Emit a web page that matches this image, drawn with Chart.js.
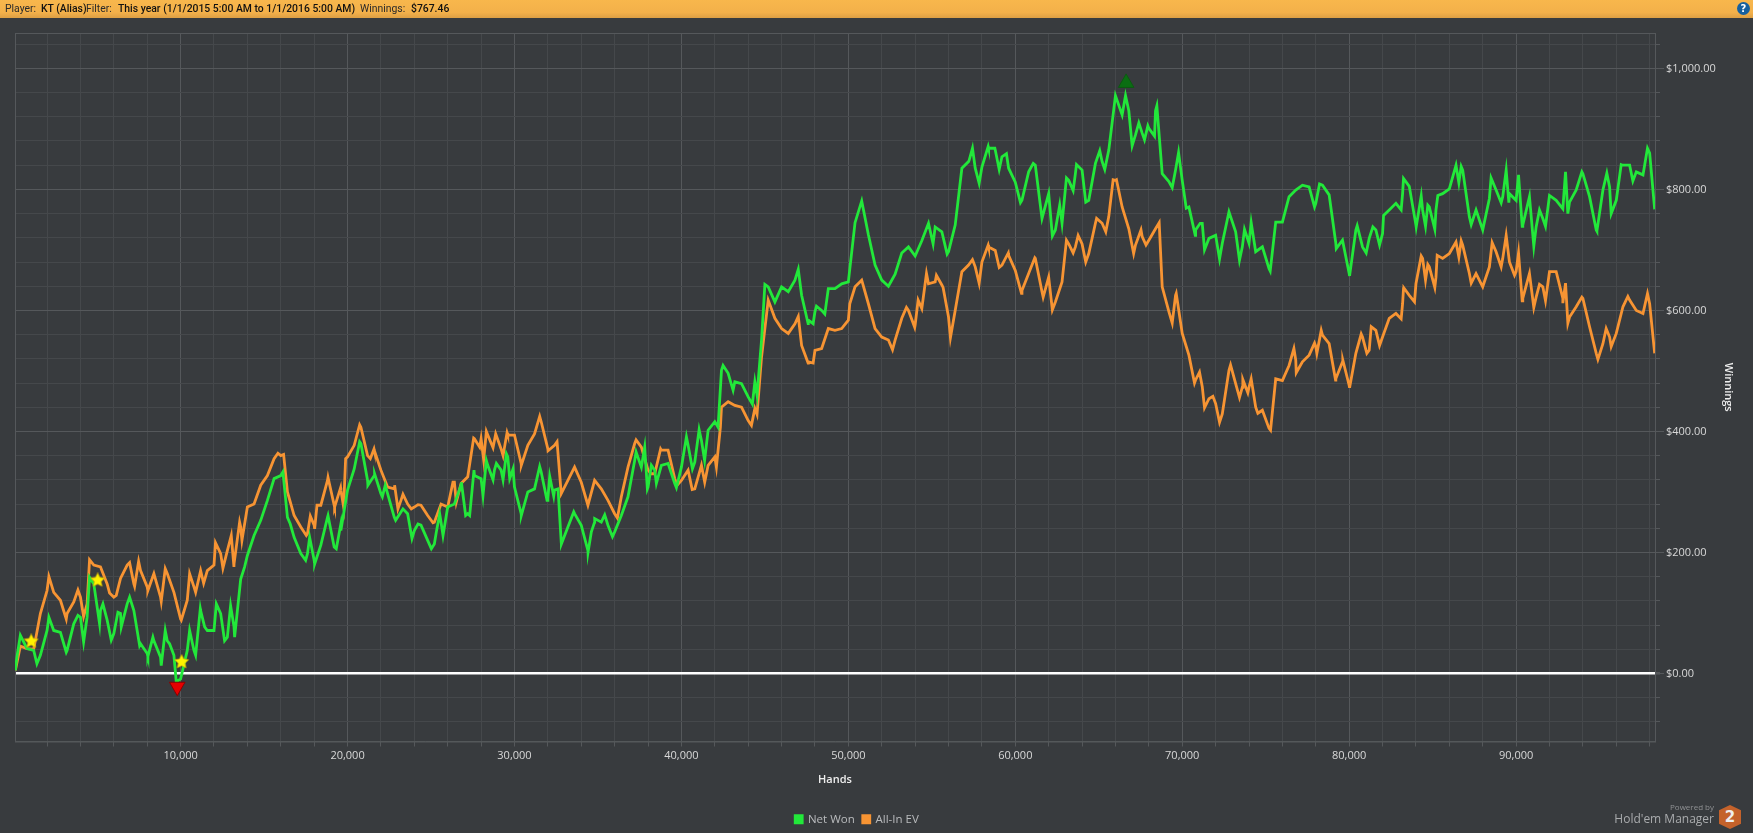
<!DOCTYPE html>
<html>
<head>
<meta charset="utf-8">
<title>Winnings graph</title>
<script src="https://cdn.jsdelivr.net/npm/chart.js@4/dist/chart.umd.min.js"></script>
<style>
    html, body { margin: 0; padding: 0; background: #383b3e; overflow: hidden; }
    #wrap { position: relative; width: 1753px; height: 833px; }
    #chart { position: absolute; left: 0; top: 0; }
    .topbar {
        position: absolute; left: 0; top: 0; width: 1753px; height: 18px;
        background: linear-gradient(#f8b74c, #f3b04a 70%, #dd9f44);
        font: 10.4px Roboto, sans-serif; color: #2a2a2a; line-height: 18px; white-space: pre;
    }
    .topbar span { position: absolute; top: 0; }
    .topbar b { font-weight: 500; color: #111; }
    .help {
        position: absolute; left: 1737px; top: 2px; width: 13px; height: 13px; border-radius: 50%;
        background: #16609f; color: #fff; font: bold 10px/13px "DejaVu Sans", sans-serif; text-align: center;
    }
    .powered { position: absolute; right: 39px; top: 802px; text-align: right; color: #a9abad; font-family: "Open Sans", sans-serif; }
    .powered small { display: block; font-size: 8px; line-height: 9px; color: #8f9193; }
    .powered div { font-size: 12px; line-height: 16px; }
    .badge {
        position: absolute; left: 1719px; top: 805px; width: 22px; height: 24px; background: #c4622b; color: #eee;
        clip-path: polygon(50% 0, 100% 22%, 100% 78%, 50% 100%, 0 78%, 0 22%);
        font: bold 15px/24px "DejaVu Sans", sans-serif; text-align: center;
    }
</style>
</head>
<body>
<div id="wrap">
    <canvas id="chart" width="1753" height="833"></canvas>
    <div class="topbar">
        <span style="left:5px">Player:</span><span style="left:41px"><b>KT (Alias)</b></span>
        <span style="left:86px">Filter:</span><span style="left:118px"><b>This year (1/1/2015 5:00 AM to 1/1/2016 5:00 AM)</b></span>
        <span style="left:360px">Winnings:</span><span style="left:411px"><b>$767.46</b></span>
    </div>
    <div class="help">?</div>
    <div class="powered"><small>Powered by</small><div>Hold'em Manager</div></div>
    <div class="badge">2</div>
</div>

<script>
// Du lieu doc tu anh, moi dong 10 diem
const hands = [
    100, 400, 800, 1200, 1600, 2000, 2400, 2800, 3200, 3600,
    4000, 4400, 4800, 5200, 5600, 6000, 6400, 6800, 7200, 7600,
    8000, 8400, 8800, 9200, 9600, 10000, 10400, 10800, 11200, 11600,
    12000, 12400, 12800, 13200, 13600, 14000, 14400, 14800, 15200, 15600,
    16000, 16400, 16800, 17200, 17600, 18000, 18400, 18800, 19200, 19600,
    20000, 20400, 20800, 21200, 21600, 22000, 22400, 22800, 23200, 23600,
    24000, 24400, 24800, 25200, 25600, 26000, 26400, 26800, 27200, 27600,
    28000, 28400, 28800, 29200, 29600, 30000, 30400, 30800, 31200, 31600,
    32000, 32400, 32800, 33200, 33600, 34000, 34400, 34800, 35200, 35600,
    36000, 36400, 36800, 37200, 37600, 38000, 38400, 38800, 39200, 39600,
    40000, 40400, 40800, 41200, 41600, 42000, 42400, 42800, 43200, 43600,
    44000, 44400, 44800, 45200, 45600, 46000, 46400, 46800, 47200, 47600,
    48000, 48400, 48800, 49200, 49600, 50000, 50400, 50800, 51200, 51600,
    52000, 52400, 52800, 53200, 53600, 54000, 54400, 54800, 55200, 55600,
    56000, 56400, 56800, 57200, 57600, 58000, 58400, 58800, 59200, 59600,
    60000, 60400, 60800, 61200, 61600, 62000, 62400, 62800, 63200, 63600,
    64000, 64400, 64800, 65200, 65600, 66000, 66400, 66800, 67200, 67600,
    68000, 68400, 68800, 69200, 69600, 70000, 70400, 70800, 71200, 71600,
    72000, 72400, 72800, 73200, 73600, 74000, 74400, 74800, 75200, 75600,
    76000, 76400, 76800, 77200, 77600, 78000, 78400, 78800, 79200, 79600,
    80000, 80400, 80800, 81200, 81600, 82000, 82400, 82800, 83200, 83600,
    84000, 84400, 84800, 85200, 85600, 86000, 86400, 86800, 87200, 87600,
    88000, 88400, 88800, 89200, 89600, 90000, 90400, 90800, 91200, 91600,
    92000, 92400, 92800, 93200, 93600, 94000, 94400, 94800, 95200, 95600,
    96000, 96400, 96800, 97200, 97600, 98000, 98300
];

const netWon = [
    5, 63, 41, 38, 30, 71, 71, 68, 38, 82,
    93, 93, 148, 104, 88, 66, 99, 115, 104, 49,
    33, 54, 27, 54, 30, -9, 38, 38, 104, 71,
    71, 99, 60, 77, 156, 195, 228, 253, 286, 322,
    327, 258, 225, 198, 198, 187, 212, 258, 209, 236,
    303, 338, 380, 319, 327, 297, 297, 258, 267, 264,
    236, 245, 220, 214, 250, 275, 280, 311, 264, 327,
    322, 344, 336, 336, 358, 308, 264, 300, 305, 333,
    289, 303, 217, 242, 264, 245, 203, 250, 250, 245,
    234, 261, 292, 352, 341, 308, 336, 344, 347, 314,
    341, 377, 349, 385, 402, 416, 501, 496, 482, 479,
    457, 482, 551, 639, 614, 639, 631, 650, 625, 584,
    598, 600, 636, 636, 644, 647, 745, 781, 725, 675,
    650, 640, 660, 695, 705, 690, 715, 744, 738, 730,
    697, 741, 835, 846, 835, 837, 868, 865, 854, 835,
    812, 782, 829, 840, 752, 793, 733, 744, 815, 826,
    832, 782, 843, 846, 865, 955, 923, 930, 890, 893,
    901, 930, 826, 813, 832, 815, 771, 733, 744, 719,
    724, 711, 763, 730, 705, 711, 697, 705, 669, 746,
    746, 788, 799, 807, 804, 777, 807, 791, 711, 716,
    661, 733, 705, 719, 733, 727, 766, 777, 793, 805,
    741, 766, 771, 766, 793, 801, 840, 832, 755, 766,
    733, 785, 799, 788, 793, 782, 741, 788, 738, 752,
    790, 782, 768, 779, 799, 826, 788, 733, 799, 804,
    782, 840, 840, 829, 824, 860, 767
];

const allInEV = [
    5, 45, 41, 40, 99, 137, 134, 121, 99, 118,
    126, 115, 179, 176, 148, 126, 157, 179, 148, 170,
    143, 165, 126, 165, 134, 90, 121, 143, 170, 170,
    179, 198, 203, 181, 242, 275, 280, 311, 327, 355,
    360, 300, 261, 242, 231, 245, 278, 319, 278, 303,
    358, 377, 407, 360, 369, 336, 308, 305, 286, 280,
    275, 278, 261, 250, 280, 275, 316, 314, 325, 388,
    388, 394, 385, 371, 394, 394, 347, 377, 396, 416,
    371, 377, 297, 319, 341, 316, 278, 319, 305, 286,
    264, 292, 341, 380, 374, 336, 330, 369, 369, 322,
    319, 336, 305, 344, 344, 358, 440, 449, 443, 440,
    418, 438, 523, 617, 587, 570, 562, 578, 542, 515,
    534, 537, 570, 567, 570, 584, 639, 650, 611, 570,
    556, 551, 551, 587, 600, 576, 603, 644, 647, 642,
    589, 600, 664, 675, 672, 680, 705, 699, 675, 691,
    666, 633, 661, 686, 631, 655, 614, 647, 710, 705,
    710, 694, 744, 744, 755, 815, 771, 735, 708, 722,
    716, 735, 639, 598, 625, 562, 526, 485, 474, 454,
    446, 429, 501, 479, 473, 473, 440, 435, 405, 487,
    484, 509, 518, 515, 526, 540, 559, 545, 487, 515,
    476, 529, 556, 534, 567, 556, 587, 595, 611, 625,
    644, 686, 672, 655, 686, 694, 713, 708, 661, 661,
    639, 672, 697, 686, 680, 664, 620, 661, 622, 639,
    664, 664, 620, 589, 606, 620, 573, 529, 545, 556,
    562, 606, 617, 600, 595, 611, 529
];

// Cac dinh va day nho nam giua cac diem tren
const netWonPeakHands = [
    194, 1392, 2111, 3150, 3850, 4190, 4545, 5147, 5347, 5845, 6245, 6445, 6945, 7545, 8040, 8340, 8840, 9080, 9340, 9740,
    10540, 10900, 11180, 11440, 12140, 12635, 12995, 13235, 13835, 16130, 16570, 17490, 17730, 18030, 18830, 19325, 19585, 20725, 21220, 21620,
    22085, 22260, 22880, 23320, 23860, 24220, 25020, 25320, 25520, 25720, 26820, 27075, 27315, 27575, 28115, 28315, 28715, 28915, 29315, 29515,
    29715, 29915, 30410, 31510, 31950, 32110, 32350, 32610, 32810, 33550, 34405, 34605, 34805, 35405, 35870, 37285, 37800, 37960, 38200, 38500,
    39700, 40300, 40660, 41060, 41390, 42195, 42495, 43095, 44250, 44530, 45000, 47000, 47590, 47890, 48090, 48590, 55075, 55915, 57235, 57435,
    57835, 58375, 58775, 59035, 59470, 60310, 61075, 62220, 62660, 63065, 63465, 63665, 64220, 65060, 65360, 66603, 67000, 67400, 67740, 67940,
    68340, 68480, 69400, 69780, 70240, 70780, 71075, 71335, 72235, 73430, 73730, 74130, 75270, 77925, 78225, 79225, 80025, 80480, 81020, 81420,
    81820, 82060, 83115, 83255, 84015, 84315, 84573, 84710, 85130, 85310, 86570, 86710, 87310, 88500, 89105, 89405, 89565, 90145, 90365, 91060,
    91400, 91760, 92960, 93100, 93940, 94840, 95435, 95695, 96295, 96995, 97870
];
const netWonPeaks = [
    27, 16, 93, 35, 96, 52, 159, 82, 115, 55, 101, 77, 126, 46, 28, 60, 13, 71, 49, -14,
    71, 30, 107, 77, 115, 54, 112, 60, 176, 333, 247, 187, 225, 181, 261, 206, 245, 383, 311, 330,
    292, 311, 253, 272, 223, 247, 206, 234, 264, 228, 316, 261, 261, 336, 294, 352, 320, 347, 320, 363,
    322, 338, 261, 342, 286, 326, 293, 305, 214, 267, 200, 234, 256, 262, 226, 366, 374, 305, 344, 314,
    307, 391, 338, 403, 352, 407, 509, 468, 445, 460, 643, 668, 578, 578, 607, 594, 710, 693, 848, 868,
    810, 871, 868, 833, 859, 778, 843, 723, 774, 819, 798, 841, 779, 864, 833, 955, 872, 910, 882, 905,
    888, 938, 803, 861, 769, 724, 744, 700, 685, 683, 734, 745, 665, 771, 809, 702, 657, 740, 695, 738,
    708, 757, 766, 818, 738, 789, 739, 774, 734, 790, 811, 838, 742, 819, 778, 832, 778, 824, 739, 706,
    766, 739, 829, 760, 829, 731, 827, 760, 841, 814, 868
];

const allInPeakHands = [
    2111, 3150, 3850, 4190, 4545, 5745, 6145, 6945, 7245, 7485, 8040, 8840, 9080, 10040, 10540, 10900, 11380, 12090, 12535, 13035,
    13195, 13535, 13675, 15830, 16170, 17530, 17770, 18030, 18170, 18830, 19225, 19585, 19765, 19885, 20725, 21365, 21585, 22820, 23020, 23320,
    23820, 24220, 25120, 26315, 26515, 27915, 27555, 28155, 28315, 28715, 28875, 29315, 29555, 30410, 31510, 32010, 32550, 36165, 37285, 38185,
    38755, 39740, 40645, 41395, 42095, 42335, 44195, 44530, 47000, 47590, 47890, 50085, 52645, 53480, 53975, 54180, 54680, 55275, 55675, 56115,
    57435, 57835, 58375, 59035, 59580, 60370, 61170, 61670, 62220, 63065, 63465, 63765, 64220, 64870, 65420, 65860, 66060, 67090, 67530, 67830,
    68620, 69400, 69640, 70735, 71035, 71335, 71835, 72235, 72895, 73430, 73630, 73930, 74130, 74530, 75290, 76690, 76830, 77925, 78065, 78325,
    79185, 79620, 80025, 80720, 81060, 81320, 81820, 83280, 83115, 83255, 83915, 84315, 84573, 84710, 85130, 85272, 86570, 86710, 87310, 88565,
    89105, 89405, 89905, 90145, 90365, 91060, 91400, 91760, 92800, 92960, 93100, 93940, 94900, 95395, 95695, 96695, 97870
];
const allInPeaks = [
    160, 90, 138, 94, 188, 133, 129, 183, 144, 185, 137, 119, 173, 88, 165, 134, 149, 216, 174, 228,
    176, 250, 220, 364, 362, 228, 260, 239, 278, 324, 275, 307, 275, 355, 411, 355, 371, 311, 272, 296,
    272, 279, 249, 316, 283, 374, 389, 353, 400, 373, 396, 360, 398, 344, 425, 368, 383, 257, 386, 330,
    371, 311, 304, 316, 341, 407, 410, 428, 590, 513, 513, 611, 535, 605, 572, 617, 661, 658, 638, 555,
    684, 645, 708, 671, 695, 628, 687, 622, 601, 716, 695, 724, 680, 752, 730, 816, 816, 694, 733, 708,
    745, 579, 628, 480, 498, 439, 458, 415, 510, 456, 486, 464, 487, 430, 402, 537, 497, 546, 529, 567,
    485, 518, 472, 561, 529, 573, 542, 637, 586, 636, 614, 690, 650, 676, 638, 691, 688, 715, 645, 712,
    672, 724, 658, 695, 616, 605, 643, 616, 612, 645, 579, 622, 519, 570, 540, 623, 628
];

// Cac dau sao va dinh / day
const starHands = [1050, 5030, 10060];
const starValues = [53, 154, 19];
const lowHands = [9800];
const lowValues = [-22];
const highHands = [66640];
const highValues = [976];

// Nhan truc
const xLabelTicks = [10000, 20000, 30000, 40000, 50000, 60000, 70000, 80000, 90000];
const yLabelTicks = [0, 200, 400, 600, 800, 1000];

const GRID_MAJOR = '#55585b';
const GRID_MINOR = '#45484b';

function toPoints(xs, ys) {
    return xs.map((x, i) => ({ x: x, y: ys[i] }));
}

// Gop diem deu va cac dinh, sap xep theo so tay bai
function mergedPoints(xs, ys, peakXs, peakYs) {
    return toPoints(xs, ys).concat(toPoints(peakXs, peakYs)).sort((a, b) => a.x - b.x);
}

// Ve ngoi sao vao canvas nho de dung lam pointStyle
function makeStar(size) {
    const c = document.createElement('canvas');
    c.width = c.height = size;
    const g = c.getContext('2d');
    const mid = size / 2;
    g.beginPath();
    for (let i = 0; i < 10; i++) {
        const r = i % 2 === 0 ? mid - 0.5 : mid * 0.46;
        const a = -Math.PI / 2 + i * Math.PI / 5;
        g.lineTo(mid + r * Math.cos(a), mid + r * Math.sin(a));
    }
    g.closePath();
    g.fillStyle = '#fff200';
    g.fill();
    g.strokeStyle = '#c9a400';
    g.lineWidth = 0.6;
    g.stroke();
    return c;
}

// Khung ngoai va vach dai cho duong chinh ben phai
const framePlugin = {
    id: 'frame',
    beforeDatasetsDraw(chart) {
        const a = chart.chartArea;
        const ctx = chart.ctx;
        ctx.save();
        ctx.strokeStyle = GRID_MAJOR;
        ctx.lineWidth = 1;
        ctx.strokeRect(a.left + 0.5, a.top + 0.5, a.right - a.left, a.bottom - a.top);
        yLabelTicks.forEach(v => {
            const y = Math.round(chart.scales.y.getPixelForValue(v)) + 0.5;
            ctx.beginPath();
            ctx.moveTo(a.right, y);
            ctx.lineTo(a.right + 9, y);
            ctx.stroke();
        });
        ctx.restore();
    },
    afterLayout(chart) {
        // legend nam lech trai so voi giua trang
        chart.legend.left -= 18;
        chart.legend.right -= 18;
        chart.legend.top += 2;
        chart.legend.bottom += 2;
    }
};

const xTickValues = [];
for (let v = 2000; v <= 98000; v += 2000) xTickValues.push(v);
const yTickValues = [];
for (let v = -80; v <= 1040; v += 40) yTickValues.push(v);

new Chart(document.getElementById('chart').getContext('2d'), {
    type: 'line',
    data: {
        datasets: [
            {
                label: 'Net Won',
                data: mergedPoints(hands, netWon, netWonPeakHands, netWonPeaks),
                borderColor: '#22e83a',
                backgroundColor: '#22e83a',
                borderWidth: 2.8,
                pointRadius: 0,
                tension: 0,
                order: 1
            },
            {
                label: 'All-In EV',
                data: mergedPoints(hands, allInEV, allInPeakHands, allInPeaks),
                borderColor: '#f79433',
                backgroundColor: '#f79433',
                borderWidth: 2.8,
                pointRadius: 0,
                tension: 0,
                order: 2
            },
            {
                label: 'stars',
                type: 'scatter',
                data: toPoints(starHands, starValues),
                pointStyle: makeStar(16),
                pointRadius: 8,
                order: 0
            },
            {
                label: 'low',
                type: 'scatter',
                data: toPoints(lowHands, lowValues),
                pointStyle: 'triangle',
                rotation: 180,
                pointRadius: 9,
                backgroundColor: '#e60000',
                borderColor: '#8a0000',
                borderWidth: 1,
                order: 0
            },
            {
                label: 'high',
                type: 'scatter',
                data: toPoints(highHands, highValues),
                pointStyle: 'triangle',
                pointRadius: 9,
                backgroundColor: '#0a6e12',
                borderColor: '#0c5a12',
                borderWidth: 1,
                order: 0
            }
        ]
    },
    options: {
        responsive: false,
        animation: false,
        layout: { padding: { left: 15, top: 33, right: 18, bottom: 0 } },
        plugins: {
            legend: {
                position: 'bottom',
                labels: {
                    color: '#b9bbbd',
                    font: { family: '"Open Sans", sans-serif', size: 11.5 },
                    boxWidth: 7,
                    boxHeight: 7,
                    padding: 8,
                    filter: item => item.text === 'Net Won' || item.text === 'All-In EV'
                }
            },
            tooltip: { enabled: false }
        },
        scales: {
            x: {
                type: 'linear',
                min: 80,
                max: 98320,
                afterBuildTicks: axis => { axis.ticks = xTickValues.map(v => ({ value: v })); },
                afterFit: axis => { axis.height = 62; },
                grid: {
                    color: c => (xLabelTicks.includes(c.tick && c.tick.value) ? GRID_MAJOR : GRID_MINOR),
                    tickColor: GRID_MAJOR,
                    tickLength: 5
                },
                border: { color: GRID_MAJOR },
                ticks: {
                    autoSkip: false,
                    maxRotation: 0,
                    color: '#d8d8d8',
                    padding: 3,
                    font: { family: '"Open Sans", sans-serif', size: 11 },
                    callback: v => (xLabelTicks.includes(v) ? v.toLocaleString('en-US') : '')
                },
                title: {
                    display: true,
                    text: 'Hands',
                    color: '#eeeeee',
                    font: { family: '"Open Sans", sans-serif', size: 11, weight: '600' },
                    padding: { top: 6, bottom: 17 }
                }
            },
            y: {
                position: 'right',
                min: -112.5,
                max: 1058.5,
                afterBuildTicks: axis => { axis.ticks = yTickValues.map(v => ({ value: v })); },
                afterFit: axis => { axis.width = 80; },
                grid: {
                    color: c => {
                        const v = c.tick && c.tick.value;
                        if (v === 0) return '#ffffff';
                        return yLabelTicks.includes(v) ? GRID_MAJOR : GRID_MINOR;
                    },
                    lineWidth: c => (c.tick && c.tick.value === 0 ? 2.6 : 1),
                    tickColor: GRID_MAJOR,
                    tickLength: 5
                },
                border: { color: GRID_MAJOR },
                ticks: {
                    autoSkip: false,
                    color: '#d8d8d8',
                    padding: 6,
                    font: { family: '"Open Sans", sans-serif', size: 11 },
                    callback: v => (yLabelTicks.includes(v) ? '$' + v.toLocaleString('en-US', { minimumFractionDigits: 2 }) : '')
                },
                title: {
                    display: true,
                    text: 'Winnings',
                    color: '#eeeeee',
                    font: { family: '"Open Sans", sans-serif', size: 11, weight: '600' },
                    padding: 0
                }
            }
        }
    },
    plugins: [framePlugin]
});
</script>
</body>
</html>
